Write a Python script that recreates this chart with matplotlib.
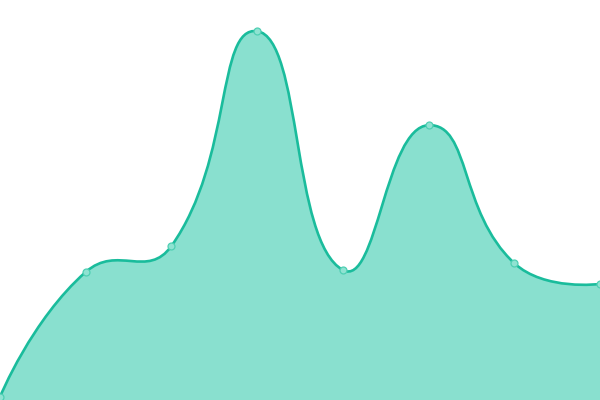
import matplotlib
matplotlib.use("Agg")
import matplotlib.pyplot as plt
import numpy as np
from matplotlib.path import Path
from matplotlib.patches import PathPatch

# data (y axis 0..1000)
categories = ["A", "B", "C", "D", "E", "F", "G", "H"]
values = [8, 320, 385, 922, 325, 687, 342, 290]

line_color = "#1abc9c"
fill_color = "#89e0cf"

W, H = 600, 400
y_max = 1000


def smooth_path(xs, ys, smooth=0.5):
    # echarts style bezier smoothing, computed in pixel space
    sx = W / (len(xs) - 1)
    sy = H / y_max
    px = np.array(xs) * sx
    py = np.array(ys) * sy
    n = len(px)
    cp_in = [None] * n
    cp_out = [None] * n
    cp_out[0] = (px[0], py[0])
    cp_in[-1] = (px[-1], py[-1])
    for i in range(1, n - 1):
        dx = px[i + 1] - px[i - 1]
        dy = py[i + 1] - py[i - 1]
        l0 = np.hypot(px[i] - px[i - 1], py[i] - py[i - 1])
        l1 = np.hypot(px[i + 1] - px[i], py[i + 1] - py[i])
        r = l1 / (l0 + l1)
        cp_out[i] = (px[i] + dx * smooth * r, py[i] + dy * smooth * r)
        cp_in[i] = (px[i] - dx * smooth * (1 - r), py[i] - dy * smooth * (1 - r))
    verts = [(px[0], py[0])]
    codes = [Path.MOVETO]
    for i in range(1, n):
        verts += [cp_out[i - 1], cp_in[i], (px[i], py[i])]
        codes += [Path.CURVE4] * 3
    verts = [(vx / sx, vy / sy) for vx, vy in verts]
    return verts, codes


x = np.arange(len(categories))
verts, codes = smooth_path(x, values)

fig = plt.figure(figsize=(6, 4), dpi=100)
ax = fig.add_axes([0, 0, 1, 1])
ax.set_xlim(0, len(categories) - 1)
ax.set_ylim(0, y_max)
ax.axis("off")

# area
fill_verts = verts + [(x[-1], 0), (x[0], 0), (x[0], 0)]
fill_codes = codes + [Path.LINETO, Path.LINETO, Path.CLOSEPOLY]
ax.add_patch(PathPatch(Path(fill_verts, fill_codes), facecolor=fill_color, edgecolor="none"))

# line
ax.add_patch(PathPatch(Path(verts, codes), facecolor="none", edgecolor=line_color, linewidth=1.9))

# points
ax.plot(x, values, "o", markersize=5, markerfacecolor="#8fe3d2",
        markeredgecolor="#4fcfb3", markeredgewidth=0.9, clip_on=False)

fig.savefig("out.png", dpi=100)
